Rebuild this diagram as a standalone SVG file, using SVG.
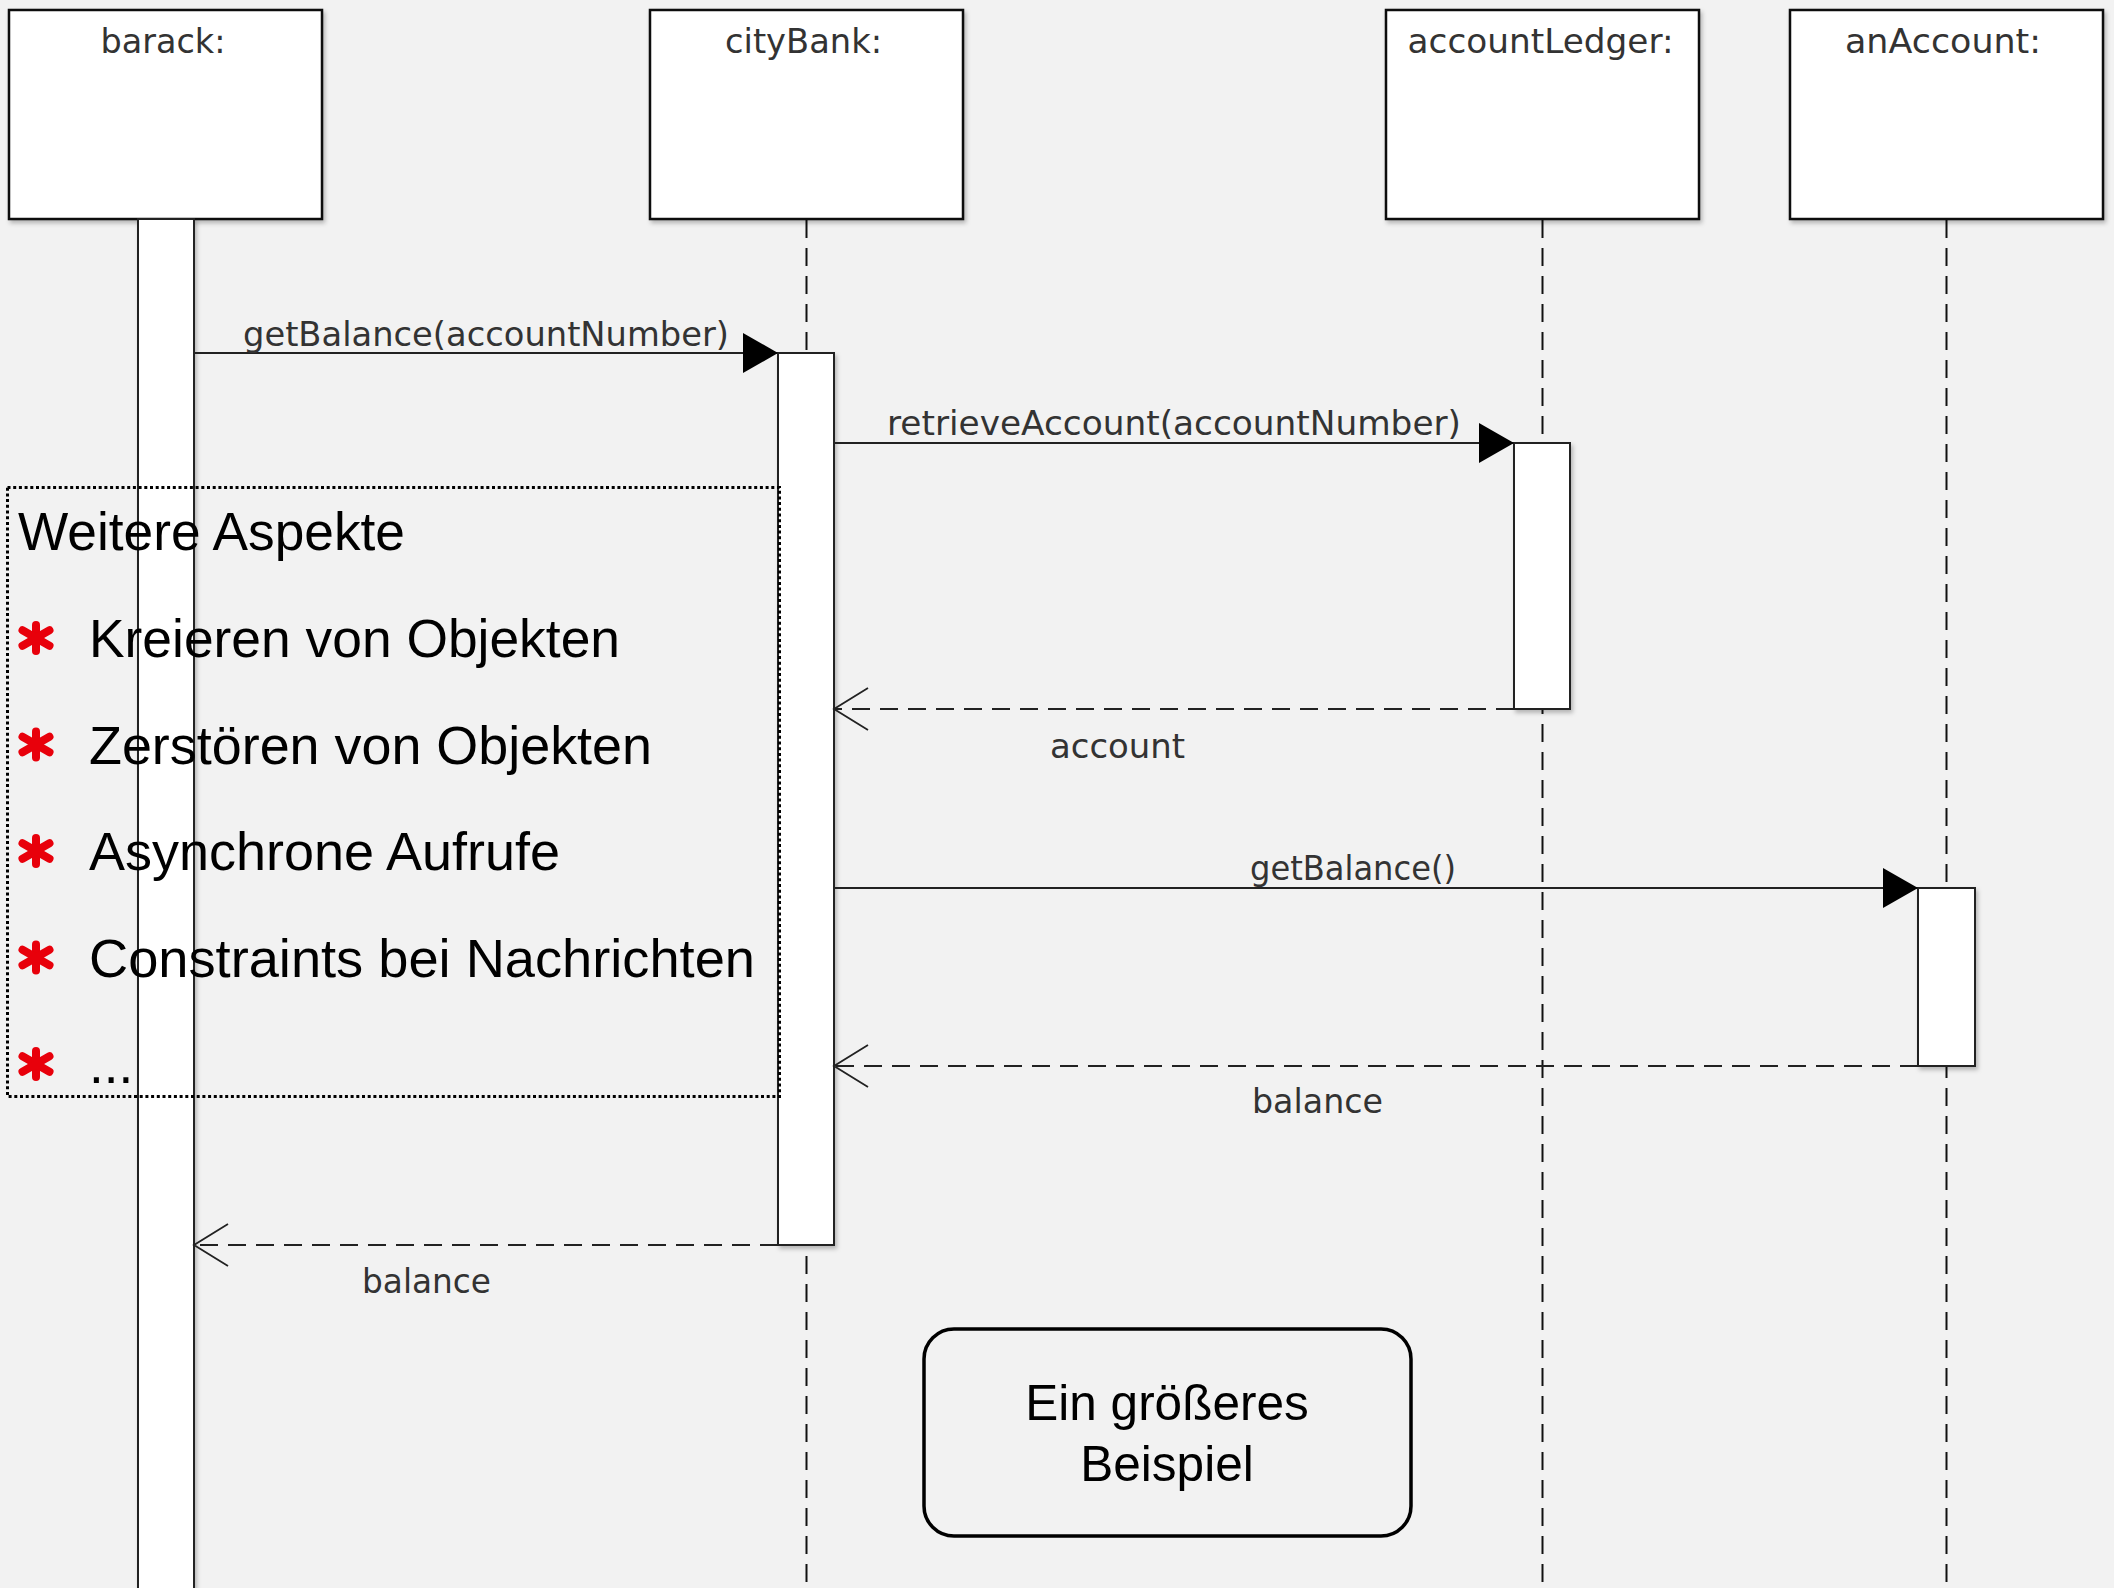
<svg xmlns="http://www.w3.org/2000/svg" width="2114" height="1588" viewBox="0 0 2114 1588">
  <defs>
    <style>
      .obj { fill: #ffffff; stroke: #111; stroke-width: 2.5; }
      .act { fill: #ffffff; stroke: #222; stroke-width: 2; }
      .lifeline { stroke: #111; stroke-width: 2; stroke-dasharray: 18 10; fill: none; }
      .call { stroke: #222; stroke-width: 2; fill: none; }
      .ret { stroke: #222; stroke-width: 2; stroke-dasharray: 18 10; fill: none; }
      .lbl { font-family: "DejaVu Sans", "Liberation Sans", sans-serif; font-size: 33px; fill: #333; }
      .note { font-family: "Liberation Sans", Arial, sans-serif; font-size: 53px; fill: #000; }
      .big { font-family: "Liberation Sans", Arial, sans-serif; font-size: 49.5px; fill: #000; }
      .star { stroke: #e8000b; stroke-width: 8; stroke-linecap: round; fill: none; }
    </style>
    <filter id="shadow" x="-10%" y="-10%" width="130%" height="130%">
      <feDropShadow dx="2" dy="3" stdDeviation="2" flood-color="#000" flood-opacity="0.25"/>
    </filter>
    <marker id="filled" markerUnits="userSpaceOnUse" markerWidth="36" markerHeight="42" refX="35" refY="20" orient="auto">
      <path d="M0,0 L35,20 L0,40 Z" fill="#000"/>
    </marker>
    <marker id="open" markerUnits="userSpaceOnUse" markerWidth="38" markerHeight="46" refX="35" refY="22" orient="auto">
      <path d="M1,1 L35,22 L1,43" fill="none" stroke="#222" stroke-width="1.8" stroke-dasharray="none"/>
    </marker>
    <g id="asterisk">
      <line x1="0" y1="-13" x2="0" y2="13"/>
      <line x1="-13.5" y1="-7.8" x2="13.5" y2="7.8"/>
      <line x1="-13.5" y1="7.8" x2="13.5" y2="-7.8"/>
    </g>
  </defs>

  <rect width="2114" height="1588" fill="#f2f2f2"/>

  <!-- lifelines -->
  <g id="lifelines">
    <line class="lifeline" x1="806.5" y1="220" x2="806.5" y2="1588"/>
    <line class="lifeline" x1="1542.5" y1="220" x2="1542.5" y2="1588"/>
    <line class="lifeline" x1="1946.5" y1="220" x2="1946.5" y2="1588"/>
  </g>

  <!-- objects -->
  <g id="barack">
    <rect class="obj" x="9" y="10" width="313" height="209" filter="url(#shadow)"/>
    <text class="lbl" x="163" y="53" text-anchor="middle" textLength="125" lengthAdjust="spacingAndGlyphs">barack:</text>
    <rect class="act" x="138" y="219" width="56" height="1380" filter="url(#shadow)"/>
  </g>
  <g id="cityBank">
    <rect class="obj" x="650" y="10" width="313" height="209" filter="url(#shadow)"/>
    <text class="lbl" x="803.5" y="53" text-anchor="middle" textLength="157" lengthAdjust="spacingAndGlyphs">cityBank:</text>
    <rect class="act" x="778" y="353" width="56" height="892" filter="url(#shadow)"/>
  </g>
  <g id="accountLedger">
    <rect class="obj" x="1386" y="10" width="313" height="209" filter="url(#shadow)"/>
    <text class="lbl" x="1540.5" y="53" text-anchor="middle" textLength="266" lengthAdjust="spacingAndGlyphs">accountLedger:</text>
    <rect class="act" x="1514" y="443" width="56" height="266" filter="url(#shadow)"/>
  </g>
  <g id="anAccount">
    <rect class="obj" x="1790" y="10" width="313" height="209" filter="url(#shadow)"/>
    <text class="lbl" x="1943" y="53" text-anchor="middle" textLength="196" lengthAdjust="spacingAndGlyphs">anAccount:</text>
    <rect class="act" x="1918" y="888" width="57" height="178" filter="url(#shadow)"/>
  </g>

  <!-- messages -->
  <g id="connectors">
    <line class="call" x1="194" y1="353" x2="778" y2="353" marker-end="url(#filled)"/>
    <text class="lbl" x="243" y="346" textLength="486" lengthAdjust="spacingAndGlyphs">getBalance(accountNumber)</text>

    <line class="call" x1="834" y1="443" x2="1514" y2="443" marker-end="url(#filled)"/>
    <text class="lbl" x="887" y="435" textLength="574" lengthAdjust="spacingAndGlyphs">retrieveAccount(accountNumber)</text>

    <line class="ret" x1="1514" y1="709" x2="834" y2="709" marker-end="url(#open)"/>
    <text class="lbl" x="1050" y="758" textLength="135" lengthAdjust="spacingAndGlyphs">account</text>

    <line class="call" x1="834" y1="888" x2="1918" y2="888" marker-end="url(#filled)"/>
    <text class="lbl" x="1250" y="880" textLength="206" lengthAdjust="spacingAndGlyphs">getBalance()</text>

    <line class="ret" x1="1918" y1="1066" x2="834" y2="1066" marker-end="url(#open)"/>
    <text class="lbl" x="1252" y="1113" textLength="131" lengthAdjust="spacingAndGlyphs">balance</text>

    <line class="ret" x1="778" y1="1245" x2="194" y2="1245" marker-end="url(#open)"/>
    <text class="lbl" x="362" y="1293" textLength="129" lengthAdjust="spacingAndGlyphs">balance</text>
  </g>

  <!-- dotted note with further topics -->
  <g id="note-aspects">
    <rect x="7.5" y="487.5" width="772" height="609" fill="none" stroke="#000" stroke-width="3" stroke-dasharray="3 2.7"/>
    <text class="note" x="18" y="550" textLength="387" lengthAdjust="spacingAndGlyphs">Weitere Aspekte</text>
    <g class="star">
      <use href="#asterisk" x="36" y="638"/>
      <use href="#asterisk" x="36" y="744.5"/>
      <use href="#asterisk" x="36" y="851"/>
      <use href="#asterisk" x="36" y="957.5"/>
      <use href="#asterisk" x="36" y="1064"/>
    </g>
    <text class="note" x="89" y="657" textLength="531" lengthAdjust="spacingAndGlyphs">Kreieren von Objekten</text>
    <text class="note" x="89" y="763.5" textLength="563" lengthAdjust="spacingAndGlyphs">Zerstören von Objekten</text>
    <text class="note" x="89" y="870" textLength="471" lengthAdjust="spacingAndGlyphs">Asynchrone Aufrufe</text>
    <text class="note" x="89" y="976.5" textLength="666" lengthAdjust="spacingAndGlyphs">Constraints bei Nachrichten</text>
    <text class="note" x="89" y="1083">...</text>
  </g>

  <!-- title box -->
  <g id="title-box">
    <rect x="924" y="1329" width="487" height="207" rx="30" ry="30" fill="none" stroke="#000" stroke-width="3.5"/>
    <text class="big" x="1167" y="1420" text-anchor="middle">Ein größeres</text>
    <text class="big" x="1167" y="1481" text-anchor="middle">Beispiel</text>
  </g>
</svg>
